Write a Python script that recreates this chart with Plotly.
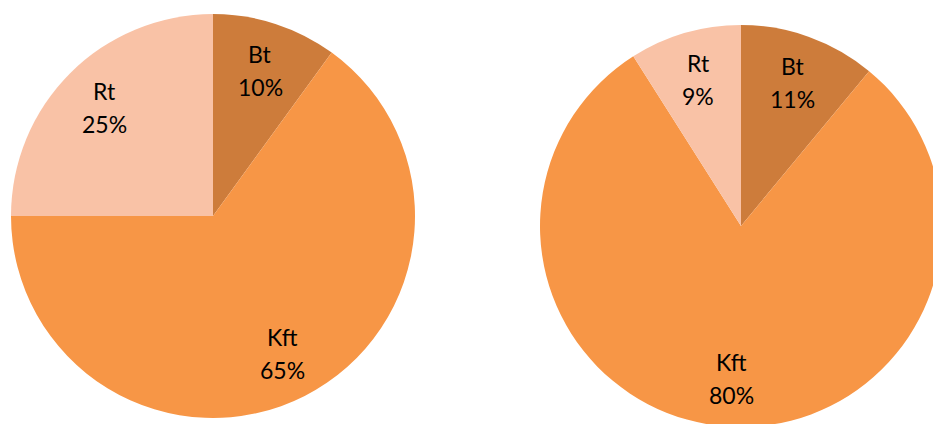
import math
import plotly.graph_objects as go

labels = ["Bt", "Kft", "Rt"]
left_values = [10, 65, 25]
right_values = [11, 80, 9]
colors = ["#CD7C3B", "#F79646", "#F9C2A6"]

W, H = 960, 440
LABEL_R = 0.76      # label distance from centre, as a fraction of radius
FONT = dict(family="Lato, Noto Sans, sans-serif", size=23, color="#000000")

pies = [
    dict(values=left_values, cx=213, cy=216, r=202),
    dict(values=right_values, cx=741, cy=226, r=201),
]

def dom(cx, cy, r):
    return dict(x=[(cx - r) / W, (cx + r) / W],
                y=[(H - (cy + r)) / H, (H - (cy - r)) / H])

fig = go.Figure()
annotations = []
for p in pies:
    fig.add_trace(go.Pie(
        values=p["values"], labels=labels, domain=dom(p["cx"], p["cy"], p["r"]),
        sort=False, direction="clockwise", rotation=0,
        textinfo="none",
        marker=dict(colors=colors, line=dict(width=0)),
        showlegend=False, hoverinfo="label+percent",
    ))
    total = sum(p["values"])
    acc = 0
    for lab, v in zip(labels, p["values"]):
        mid = (acc + v / 2) / total * 2 * math.pi
        acc += v
        px = p["cx"] + LABEL_R * p["r"] * math.sin(mid)
        py = p["cy"] - LABEL_R * p["r"] * math.cos(mid)
        pct = f"{round(100 * v / total)}%"
        for txt, shift in ((lab, 16), (pct, -17)):
            annotations.append(dict(
                x=px / W, y=(H - py) / H, xref="paper", yref="paper",
                text=txt, showarrow=False, font=FONT,
                xanchor="center", yanchor="middle", yshift=shift,
            ))

fig.update_layout(
    width=W, height=H, autosize=False,
    margin=dict(l=0, r=0, t=0, b=0),
    paper_bgcolor="white", plot_bgcolor="white",
    annotations=annotations,
)

fig.write_html("out.html", post_script="document.body.style.overflow='hidden';document.documentElement.style.overflow='hidden';document.body.style.margin='0';")
